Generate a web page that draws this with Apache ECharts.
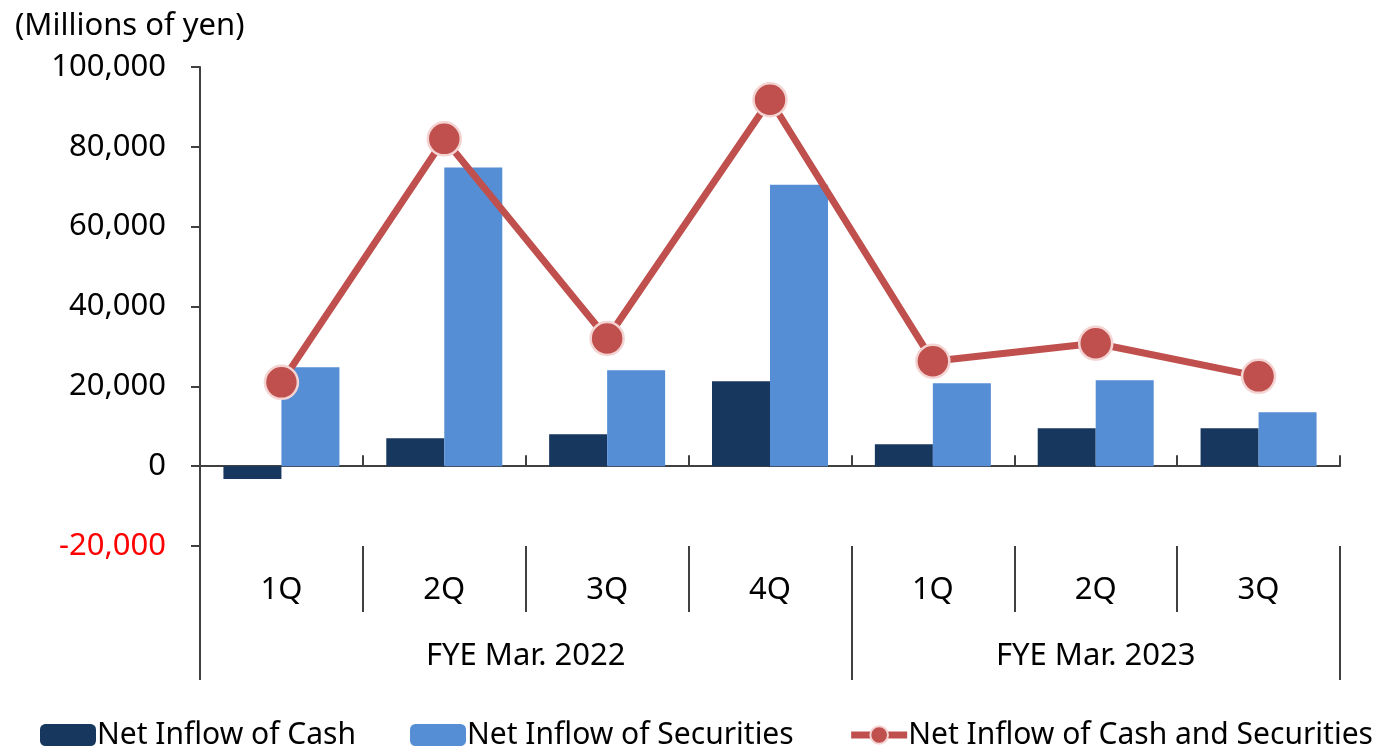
<!DOCTYPE html>
<html lang="en">
  <head>
    <meta charset="UTF-8" />
    <title>Net Inflow</title>
    <script src="https://cdn.jsdelivr.net/npm/echarts@6/dist/echarts.min.js"></script>
    <style>
      html, body { margin: 0; padding: 0; background: #fff; }
      #chart { width: 1400px; height: 748px; }
    </style>
  </head>
  <body>
    <div id="chart"></div>
    <script>
      // 数据
      var quarters = ["1Q", "2Q", "3Q", "4Q", "1Q", "2Q", "3Q"];
      var years = ["FYE Mar. 2022", "FYE Mar. 2023"];
      var yearBounds = [0, 4, 7]; // 年度分隔 (按季度计)
      var yearCenters = [2, 5.5];
      var cash = [-3200, 7000, 8000, 21300, 5500, 9500, 9500];
      var securities = [24800, 74800, 24000, 70500, 20800, 21500, 13500];
      var total = [21000, 82000, 32000, 91800, 26300, 30800, 22500];

      var font = "'Noto Sans', 'Open Sans', sans-serif";
      var axisColor = "#404040";
      var fs = 31;

      var myChart = echarts.init(document.getElementById("chart"));

      var option = {
        animation: false,
        textStyle: { fontFamily: font },
        title: {
          text: "(Millions of yen)",
          left: 10,
          top: 6,
          textStyle: { fontSize: fs, fontWeight: "normal", color: "#000", fontFamily: font },
        },
        legend: {
          left: 40,
          top: 720,
          padding: 0,
          width: 1360,
          itemWidth: 56,
          itemHeight: 22,
          itemGap: 54,
          textStyle: { fontSize: 30, color: "#000", fontFamily: font, padding: [0, 0, 0, -4] },
          data: [
            { name: "Net Inflow of Cash" },
            { name: "Net Inflow of Securities" },
            { name: "Net Inflow of Cash and Securities", lineStyle: { width: 7 } },
          ],
        },
        grid: { left: 200, right: 60, top: 67, bottom: 202 },
        xAxis: [
          {
            // 零线
            type: "category",
            data: quarters,
            axisLine: { onZero: true, lineStyle: { color: axisColor, width: 2 } },
            axisTick: { show: true, inside: true, length: 11, interval: 0, lineStyle: { color: axisColor, width: 2 } },
            axisLabel: { show: false },
          },
          {
            // 季度标签
            type: "category",
            data: quarters,
            position: "bottom",
            axisLine: { show: false, onZero: false },
            axisTick: { show: true, length: 66, interval: 0, lineStyle: { color: axisColor, width: 2 } },
            axisLabel: { margin: 29, fontSize: fs, color: "#000", fontFamily: font },
          },
          {
            // 年度标签
            type: "value",
            min: 0,
            max: 7,
            position: "bottom",
            axisLine: { show: false, onZero: false },
            splitLine: { show: false },
            axisTick: { show: true, length: 134, customValues: yearBounds, lineStyle: { color: axisColor, width: 2 } },
            axisLabel: {
              margin: 95,
              fontSize: fs,
              color: "#000",
              fontFamily: font,
              customValues: yearCenters,
              formatter: function (v) {
                return years[yearCenters.indexOf(v)];
              },
            },
          },
        ],
        yAxis: {
          type: "value",
          min: -20000,
          max: 100000,
          interval: 20000,
          axisLine: { show: true, lineStyle: { color: axisColor, width: 2 } },
          axisTick: { show: true, length: 9, lineStyle: { color: axisColor, width: 2 } },
          splitLine: { show: false },
          axisLabel: {
            margin: 34,
            fontSize: fs,
            fontFamily: font,
            color: function (v) {
              return Number(v) < 0 ? "#ff0000" : "#000";
            },
            formatter: function (v) {
              return v.toLocaleString("en-US");
            },
          },
        },
        series: [
          {
            name: "Net Inflow of Cash",
            type: "bar",
            xAxisIndex: 0,
            data: cash,
            barWidth: 58,
            barGap: "0%",
            itemStyle: { color: "#17375e" },
          },
          {
            name: "Net Inflow of Securities",
            type: "bar",
            xAxisIndex: 0,
            data: securities,
            barWidth: 58,
            barGap: "0%",
            itemStyle: { color: "#558ed5" },
          },
          {
            name: "Net Inflow of Cash and Securities",
            type: "line",
            xAxisIndex: 0,
            data: total,
            symbol: "circle",
            symbolSize: 33,
            z: 5,
            lineStyle: { color: "#c0504d", width: 7 },
            itemStyle: { color: "#c0504d", borderColor: "#f4d4d3", borderWidth: 2.5 },
          },
        ],
      };

      myChart.setOption(option);
      window.onresize = function () {
        myChart.resize();
      };
    </script>
  </body>
</html>
